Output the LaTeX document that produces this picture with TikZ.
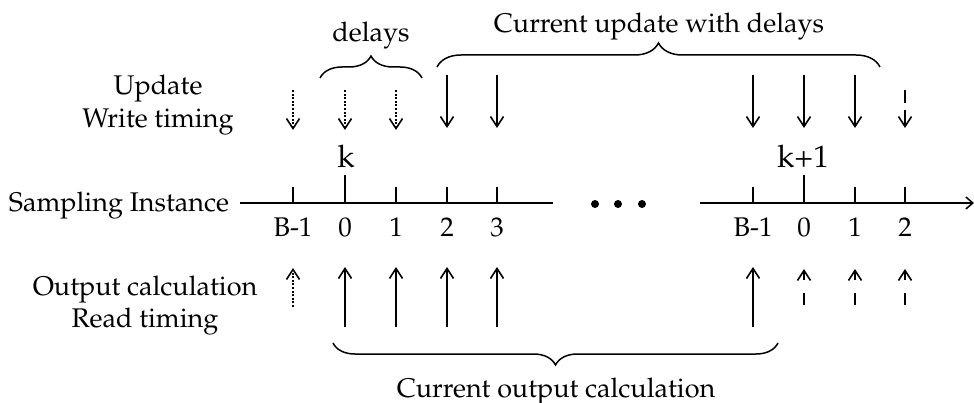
\documentclass[tikz,border=0pt]{standalone}
\usepackage[T1]{fontenc}
\usepackage{mathpazo}
\usetikzlibrary{arrows.meta,decorations.pathreplacing}
\begin{document}
\begin{tikzpicture}[x=1pt,y=-1pt,
  every node/.style={inner sep=0pt,outer sep=0pt,font=\fontsize{27}{31}\selectfont},
  lbl/.style={anchor=base},
  biglbl/.style={anchor=base,font=\fontsize{31}{35}\selectfont},
  axisline/.style={line width=1.5pt},
  tickline/.style={line width=1.5pt},
  solidarr/.style={line width=1.6pt,-{Straight Barb[length=10pt,width=13pt,line width=1.6pt]}},
  dotarr/.style={solidarr,dash pattern=on 2pt off 1.6pt},
  dasharr/.style={solidarr,dash pattern=on 13pt off 7pt on 40pt off 1pt},
  updasharr/.style={solidarr,dash pattern=on 12pt off 13pt},
  bracedeco/.style={line width=1.5pt,decorate,decoration={brace,amplitude=#1}}
]
\useasboundingbox (0,0) rectangle (974,403);

% left labels
\node[lbl] (upd) at (158,95) {Update};
\node[lbl] (wri) at (158,128) {Write timing};
\node[lbl,anchor=base east] (samp) at (229,212) {Sampling Instance};
\node[lbl] (outc) at (145,295) {Output calculation};
\node[lbl] (read) at (145,327) {Read timing};

% axis
\coordinate (a1s) at (240,203);
\coordinate (a1e) at (553,203);
\coordinate (a2s) at (700,203);
\coordinate (a2e) at (974,203);
\draw[axisline] (a1s) -- (a1e);
\draw[axisline,-{Straight Barb[length=7pt,width=12pt,line width=1.5pt]}] (a2s) -- (a2e);

% ticks and labels
\foreach \x/\t/\n in {293/B-1/b, 396/1/c, 447/2/d, 497/3/e, 753/B-1/rb, 855/1/rc, 905/2/rd}{
  \coordinate (t\n) at (\x,203);
  \coordinate (tt\n) at (\x,187);
  \draw[tickline] (t\n) -- (tt\n);
  \node[lbl] (l\n) at (\x,237) {\t};
}
\foreach \x/\n in {345/a, 804/ra}{
  \coordinate (t\n) at (\x,203);
  \coordinate (tt\n) at (\x,175);
  \draw[tickline] (t\n) -- (tt\n);
  \node[lbl] (l\n) at (\x,237) {0};
}
\node[biglbl] (k) at (346,168) {k};
\node[biglbl] (k1) at (803,168) {k+1};

% dots
\foreach \x/\n in {595/1,618/2,642/3}{
  \node[circle,fill,minimum size=8pt] (dot\n) at (\x,204) {};
}

% top arrows
\foreach \x/\n in {293/b,345/a,396/c}{
  \coordinate (us\n) at (\x,90);
  \coordinate (ue\n) at (\x,130);
  \draw[dotarr] (us\n) -- (ue\n);
}
\foreach \x/\n in {447/d,497/e,753/rb,804/ra,855/rc}{
  \coordinate (us\n) at (\x,75);
  \coordinate (ue\n) at (\x,128);
  \draw[solidarr] (us\n) -- (ue\n);
}
\coordinate (usrd) at (905,90);
\coordinate (uerd) at (905,128);
\draw[dasharr] (usrd) -- (uerd);

% bottom arrows
\foreach \x/\n in {345/a,396/c,447/d,497/e,753/rb}{
  \coordinate (bs\n) at (\x,327);
  \coordinate (be\n) at (\x,267);
  \draw[solidarr] (bs\n) -- (be\n);
}
\coordinate (bsb) at (293,307);
\coordinate (beb) at (293,268);
\draw[dotarr] (bsb) -- (beb);
\foreach \x/\n in {804/ra,855/rc,905/rd}{
  \coordinate (bs\n) at (\x,305);
  \coordinate (be\n) at (\x,269);
  \draw[updasharr] (bs\n) -- (be\n);
}

% braces
\coordinate (d1) at (320,78);
\coordinate (d2) at (422,78);
\draw[bracedeco=22pt] (d1) -- (d2);
\node[lbl] (delays) at (371,42) {delays};

\coordinate (c1) at (437,67);
\coordinate (c2) at (880,67);
\draw[bracedeco=24pt] (c1) -- (c2);
\node[lbl] (cur) at (659,33) {Current update with delays};

\coordinate (o1) at (778,343);
\coordinate (o2) at (333,343);
\draw[bracedeco=22pt] (o1) -- (o2);
\node[lbl] (curout) at (556,397) {Current output calculation};
\end{tikzpicture}
\end{document}
